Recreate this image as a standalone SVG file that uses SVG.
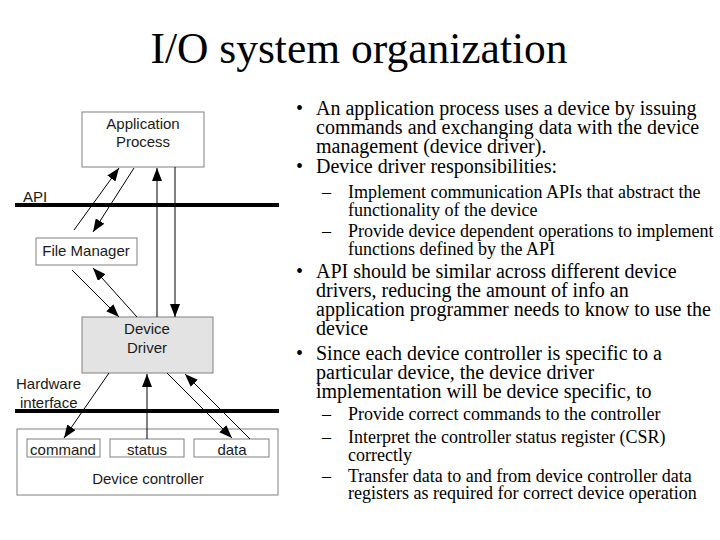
<svg xmlns="http://www.w3.org/2000/svg" width="720" height="540" viewBox="0 0 720 540">
<style>
.box{fill:#fff;stroke:#808080;stroke-width:1}
.dd{fill:#e3e3e3;stroke:#808080;stroke-width:1}
.lbl{font-family:"Liberation Sans",Arial,sans-serif;font-size:15px;fill:#1a1a1a}
.c{text-anchor:middle}
.bar{stroke:#000;stroke-width:4}
.con{stroke:#000;stroke-width:1;fill:none;marker-end:url(#ah)}
.t{font-family:"Liberation Serif","Times New Roman",serif;fill:#000}
.m{font-size:20px}
.s{font-size:18px}
</style>
<defs>
<marker id="ah" markerUnits="userSpaceOnUse" markerWidth="14" markerHeight="10" refX="13" refY="5" orient="auto">
<path d="M0,0 L13,5 L0,10 z" fill="#000"/>
</marker>
</defs>
<rect width="720" height="540" fill="#fff"/>
<text class="t c" x="359" y="63" font-size="43.5">I/O system organization</text>

<g id="bars">
<line class="bar" x1="15" y1="205" x2="279" y2="205"/>
<line class="bar" x1="15" y1="411" x2="279" y2="411"/>
<text class="lbl" x="23" y="202">API</text>
<text class="lbl"><tspan x="16" y="389">Hardware</tspan><tspan x="20" y="408">interface</tspan></text>
</g>

<g id="app">
<rect class="box" x="82" y="112" width="122" height="55"/>
<text class="lbl c"><tspan x="143" y="129">Application</tspan><tspan x="143" y="147">Process</tspan></text>
</g>
<g id="fm">
<rect class="box" x="36" y="238" width="101" height="27"/>
<text class="lbl c" x="86" y="256">File Manager</text>
</g>
<g id="dd">
<rect class="dd" x="82" y="317" width="131" height="56"/>
<text class="lbl c"><tspan x="147" y="334">Device</tspan><tspan x="147" y="353">Driver</tspan></text>
</g>
<g id="ctrl">
<rect class="box" x="17" y="429" width="261" height="66"/>
<text class="lbl c" x="148" y="484">Device controller</text>
</g>
<g id="command">
<rect class="box" x="27" y="439" width="73" height="18"/>
<text class="lbl c" x="63" y="455">command</text>
</g>
<g id="status">
<rect class="box" x="110" y="439" width="74" height="18"/>
<text class="lbl c" x="147" y="455">status</text>
</g>
<g id="data">
<rect class="box" x="194" y="439" width="75" height="18"/>
<text class="lbl c" x="232" y="455">data</text>
</g>

<g id="connectors">
<line class="con" x1="74" y1="230" x2="119" y2="168"/>
<line class="con" x1="134" y1="168" x2="93" y2="232"/>
<line class="con" x1="157" y1="317" x2="157" y2="168"/>
<line class="con" x1="175" y1="167" x2="175" y2="317"/>
<line class="con" x1="72" y1="270" x2="119" y2="317"/>
<line class="con" x1="137" y1="317" x2="93" y2="268"/>
<line class="con" x1="109" y1="373" x2="64" y2="438"/>
<line class="con" x1="147" y1="439" x2="147" y2="374"/>
<line class="con" x1="167" y1="373" x2="232" y2="438"/>
<line class="con" x1="250" y1="439" x2="185" y2="374"/>
</g>

<g id="bullets" class="t">
<text class="m"><tspan x="296" y="115">•</tspan><tspan x="316" y="115">An application process uses a device by issuing</tspan><tspan x="316" y="134">commands and exchanging data with the device</tspan><tspan x="316" y="153">management (device driver).</tspan></text>
<text class="m"><tspan x="296" y="173">•</tspan><tspan x="316" y="173">Device driver responsibilities:</tspan></text>
<text class="s"><tspan x="322" y="198">–</tspan><tspan x="348" y="198">Implement communication APIs that abstract the</tspan><tspan x="348" y="216">functionality of the device</tspan></text>
<text class="s"><tspan x="322" y="237">–</tspan><tspan x="348" y="237">Provide device dependent operations to implement</tspan><tspan x="348" y="255">functions defined by the API</tspan></text>
<text class="m"><tspan x="296" y="278">•</tspan><tspan x="316" y="278">API should be similar across different device</tspan><tspan x="316" y="297">drivers, reducing the amount of info an</tspan><tspan x="316" y="316">application programmer needs to know to use the</tspan><tspan x="316" y="335">device</tspan></text>
<text class="m"><tspan x="296" y="360">•</tspan><tspan x="316" y="360">Since each device controller is specific to a</tspan><tspan x="316" y="379">particular device, the device driver</tspan><tspan x="316" y="398">implementation will be device specific, to</tspan></text>
<text class="s"><tspan x="322" y="420">–</tspan><tspan x="348" y="420">Provide correct commands to the controller</tspan></text>
<text class="s"><tspan x="322" y="443">–</tspan><tspan x="348" y="443">Interpret the controller status register (CSR)</tspan><tspan x="348" y="461">correctly</tspan></text>
<text class="s"><tspan x="322" y="482">–</tspan><tspan x="348" y="482">Transfer data to and from device controller data</tspan><tspan x="348" y="499">registers as required for correct device operation</tspan></text>
</g>
</svg>
